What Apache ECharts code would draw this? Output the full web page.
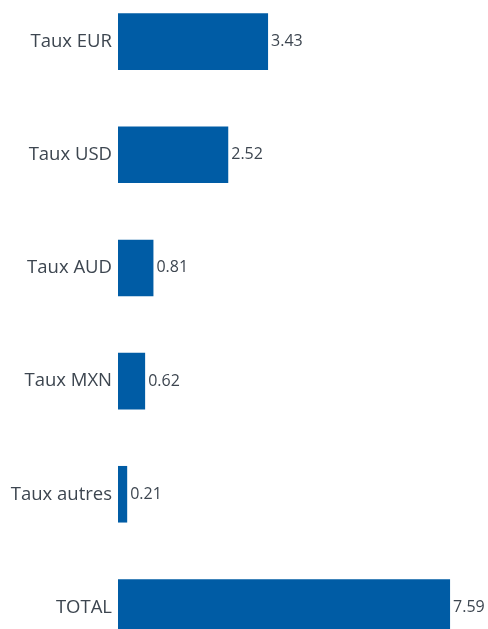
<!DOCTYPE html>
<html><head><meta charset="utf-8">
<script src="https://cdn.jsdelivr.net/npm/echarts@6/dist/echarts.min.js"></script>
<style>html,body{margin:0;padding:0;background:#fff;overflow:hidden;width:488px;height:629px}#c{position:absolute;left:0;top:-15px;width:488px;height:679px}</style>
</head><body><div id="c"></div>
<script>
const categories = ["Taux EUR", "Taux USD", "Taux AUD", "Taux MXN", "Taux autres", "TOTAL"];
const values = [3.43, 2.52, 0.81, 0.62, 0.21, 7.59];

const chart = echarts.init(document.getElementById('c'), null, {renderer: 'canvas'});
chart.setOption({
  animation: false,
  grid: {left: 118, right: 20, top: 0, bottom: 0, containLabel: false},
  xAxis: {type: 'value', min: 0, max: 8, show: false},
  yAxis: {
    type: 'category', inverse: true, data: categories,
    axisLine: {show: false}, axisTick: {show: false},
    axisLabel: {fontFamily: 'Open Sans', fontSize: 18.5, color: '#3d4650', margin: 6}
  },
  series: [{
    type: 'bar', data: values, barWidth: '50%',
    itemStyle: {color: '#005ca5'},
    label: {show: true, position: 'right', distance: 3, fontFamily: 'Open Sans', fontSize: 16, color: '#3d4650',
      formatter: p => p.value.toFixed(2)}
  }]
});
</script></body></html>
